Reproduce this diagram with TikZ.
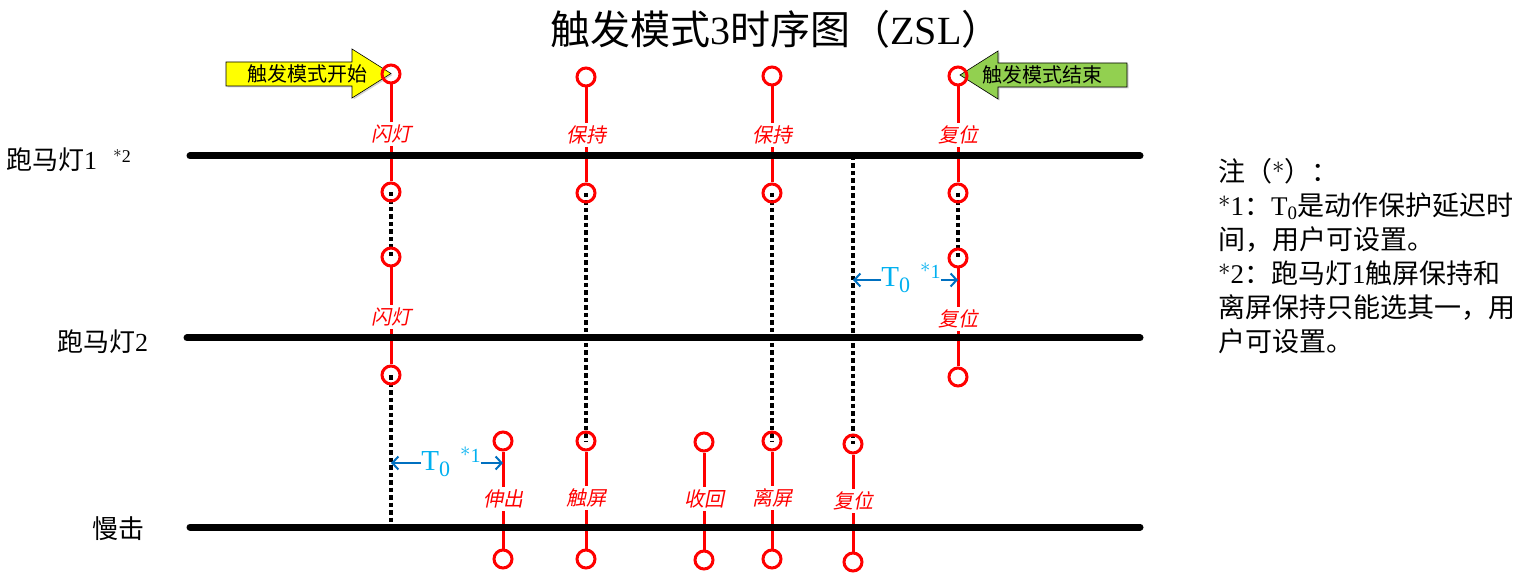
\documentclass[tikz,border=0pt]{standalone}
\usepackage{fontspec}
\setmainfont{Noto Sans CJK SC}
\newfontfamily\cjkit[FakeSlant=0.2]{Noto Sans CJK SC}
\newfontfamily\lat{Liberation Serif}
\usetikzlibrary{arrows.meta}
\usetikzlibrary{shadows}
\usetikzlibrary{backgrounds}
\definecolor{startyellow}{HTML}{FFFF00}
\definecolor{endgreen}{HTML}{92D050}
\definecolor{delayblue}{HTML}{0070C0}
\definecolor{delaycyan}{HTML}{00B0F0}
\newcommand{\nstar}{\raisebox{0.3em}{$\ast$}}
\newcommand{\tzero}{{\lat\fontsize{29}{29}\selectfont T\raisebox{-6pt}{\fontsize{22}{22}\selectfont 0}\hspace{10pt}\raisebox{8pt}{\fontsize{20}{20}\selectfont\nstar 1}}}

\begin{document}
\begin{tikzpicture}[
		x=1pt, y=-1pt,
		track/.style = {line width=7pt, line cap=round},% signal lines
		ring/.style = {circle, draw=red, line width=3pt,
			minimum size=18pt, inner sep=0pt},
		evtag/.style = {text=red, inner sep=3pt,
			font=\cjkit\fontsize{20}{20}\selectfont},
		redstem/.style = {red, line width=3pt},
		holdline/.style = {line width=3.2pt, dash pattern=on 4.5pt off 3pt},
		delay/.style = {delayblue, line width=2pt,
			-{Straight Barb[length=6pt, width=13pt]}},
		delaytext/.style = {text=delaycyan, inner sep=0pt, anchor=base},
		flag/.style = {draw, line width=0.6pt,
			drop shadow={opacity=0.35, shadow xshift=1.5pt, shadow yshift=-1.5pt}},
		rowname/.style = {font=\fontsize{26}{26}\selectfont, anchor=base west, inner sep=0pt},
		]
		\useasboundingbox (0,0) rectangle (1532,577);
		% title
		\node[anchor=base] (title) at (776,45)
			{\fontsize{40}{40}\selectfont 触发模式{\lat 3}时序图（{\lat ZSL}）};
		% names of the signals
		\node[rowname] (row1) at (6,170)
			{跑马灯{\lat 1}\hspace{16pt}\raisebox{7pt}{\fontsize{18}{18}\selectfont\nstar\lat 2}};
		\node[rowname] (row2) at (57,352) {跑马灯{\lat 2}};
		\node[rowname] (row3) at (92,538) {慢击};
		\coordinate (r1w) at (190,156); \coordinate (r1e) at (1140,156);
		\coordinate (r2w) at (187,338); \coordinate (r2e) at (1140,338);
		\coordinate (r3w) at (190,527); \coordinate (r3e) at (1140,527);
		% start / end flags
		\draw[flag, fill=startyellow] (226,62) -- (352,62) -- (352,49) -- (391,73.5)
			-- (352,98) -- (352,86) -- (226,86) -- cycle;
		\node[font=\fontsize{20}{20}\selectfont] (startlbl) at (307,74) {触发模式开始};
		\draw[flag, fill=endgreen] (1127,63) -- (998,63) -- (998,51) -- (960,75)
			-- (998,99) -- (998,87) -- (1127,87) -- cycle;
		\node[font=\fontsize{20}{20}\selectfont] (endlbl) at (1042,75) {触发模式结束};
		% events: name / x / top ring / tag / bottom ring / text
		\foreach \n/\x/\t/\l/\b/\s in {
			a1/391/74/134/192/闪灯, a2/586/77/135/193/保持,
			a3/772/76/135/193/保持, a4/958/76/135/193/复位,
			b1/391/257/317/375/闪灯, b4/958/258/319/377/复位,
			c1/503/441/499/559/伸出, c2/586/441/498/559/触屏,
			c3/704/442/499/560/收回, c4/772/441/498/559/离屏,
			c5/853/444/501/562/复位}
		{
			\node[ring] (\n-t) at (\x,\t) {};
			\node[evtag] (\n-l) at (\x,\l) {\s};
			\node[ring] (\n-b) at (\x,\b) {};
			\draw[redstem] (\n-t) -- (\n-l);
			\draw[redstem] (\n-l) -- (\n-b);
		}
		% held states
		\coordinate (h1) at (391,527);
		\coordinate (h5) at (853,156);
		\begin{scope}[on background layer]
			\draw[holdline] (a1-b.center) -- (b1-t.center);
			\draw[holdline] (b1-b.center) -- (h1);
			\draw[holdline] (a2-b.center) -- (c2-t.center);
			\draw[holdline] (a3-b.center) -- (c4-t.center);
			\draw[holdline] (a4-b.center) -- (b4-t.center);
			\draw[holdline] (h5) -- (c5-t.center);
		\end{scope}
		% signal lines
		\draw[track] (r1w) -- (r1e);
		\draw[track] (r2w) -- (r2e);
		\draw[track] (r3w) -- (r3e);
		% protection delay T0
		\coordinate (d1a) at (853,280); \coordinate (d1b) at (958,280);
		\node[delaytext] (t0up) at (911,287) {\tzero};
		\draw[delay] (t0up.west |- d1a) -- (d1a);
		\draw[delay] (t0up.east |- d1b) -- (d1b);
		\coordinate (d2a) at (391,463); \coordinate (d2b) at (503,463);
		\node[delaytext] (t0low) at (451,470) {\tzero};
		\draw[delay] (t0low.west |- d2a) -- (d2a);
		\draw[delay] (t0low.east |- d2b) -- (d2b);
		% notes
		\node[anchor=north west, align=left, inner sep=0pt,
			font=\fontsize{27}{34}\selectfont] (notes) at (1218,158)
			{注（\nstar）：\\
			\nstar{\lat 1}：{\lat T}\textsubscript{\lat 0}是动作保护延迟时\\
			间，用户可设置。\\
			\nstar{\lat 2}：跑马灯{\lat 1}触屏保持和\\
			离屏保持只能选其一，用\\
			户可设置。};
	\end{tikzpicture}
\end{document}
